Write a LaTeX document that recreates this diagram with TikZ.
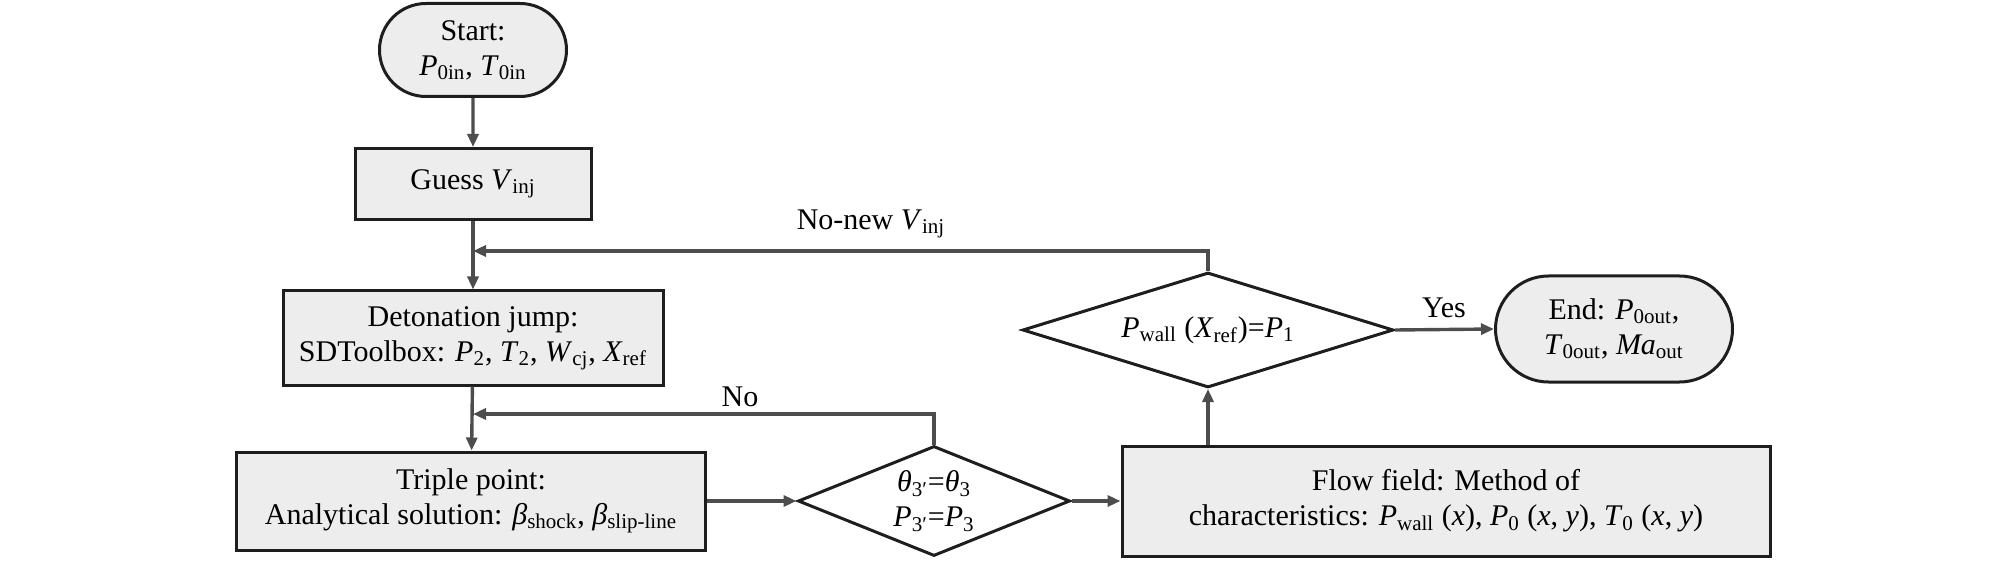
\documentclass[tikz,border=0pt]{standalone}
\usepackage{fontspec}
\setmainfont{Liberation Serif}
\usetikzlibrary{shapes.geometric,shapes.misc,arrows.meta}
\definecolor{boxfill}{HTML}{EDEDED}
\definecolor{linegray}{HTML}{4D4D4D}
\definecolor{edgeblack}{HTML}{1E1E1E}
\newcommand\vsub[2]{\textit{#1}\textsubscript{#2}}
\begin{document}
\begin{tikzpicture}[x=0.5pt,y=-0.5pt,
  font=\fontsize{15}{17.5}\selectfont,
  box/.style={draw=edgeblack, line width=1.5pt, fill=boxfill, inner sep=0pt, align=center},
  term/.style={box, rounded rectangle},
  dia/.style={draw=edgeblack, line width=1.5pt, diamond, inner sep=0pt},
  conn/.style={draw=linegray, line width=1.7pt, -{Triangle[length=6.5pt,width=5.5pt]}},
  lbl/.style={inner sep=0pt, align=center}
]
\useasboundingbox (0,0) rectangle (2008,561);

\node[term, minimum width=93.5pt, minimum height=46.5pt] (start) at (473,50)
  {Start:\\ \vsub{P}{0in}, \vsub{T}{0in}};
\node[box, minimum width=118pt, minimum height=35.5pt] (guess) at (473,184)
  {Guess \vsub{V}{inj}};
\node[box, minimum width=190pt, minimum height=47pt] (deton) at (473,338)
  {Detonation jump:\\ SDToolbox: \vsub{P}{2}, \vsub{T}{2}, \vsub{W}{cj}, \vsub{X}{ref}};
\node[box, minimum width=234.5pt, minimum height=49pt] (triple) at (471,501)
  {Triple point:\\ Analytical solution: \vsub{β}{shock}, \vsub{β}{slip-line}};
\node[dia, minimum width=136pt, minimum height=55pt] (d1) at (934,501) {};
\node[lbl] (d1t) at (d1.center) {\vsub{θ}{3′}=\vsub{θ}{3}\\ \vsub{P}{3′}=\vsub{P}{3}};
\node[box, minimum width=324pt, minimum height=55pt] (flow) at (1446,501)
  {Flow field: Method of\\ characteristics: \vsub{P}{wall} (\textit{x}), \vsub{P}{0} (\textit{x}, \textit{y}), \vsub{T}{0} (\textit{x}, \textit{y})};
\node[dia, minimum width=185.5pt, minimum height=57.5pt] (d2) at (1208,330) {};
\node[lbl] (d2t) at (d2.center) {\vsub{P}{wall} (\vsub{X}{ref})=\vsub{P}{1}};
\node[term, minimum width=118.5pt, minimum height=53pt] (end) at (1614,329)
  {End: \vsub{P}{0out},\\ \vsub{T}{0out}, \vsub{\textit{Ma}}{out}};

\coordinate (j1) at (473,251);
\coordinate (j2) at (473,414);

\draw[conn] (start) -- (guess);
\draw[conn] (guess) -- (deton);
\draw[conn] (deton) -- (triple);
\draw[conn] (triple) -- (d1);
\draw[conn] (d1) -- (flow);
\draw[conn] (d1.north) |- (j2);
\draw[conn] (flow.north -| d2.south) -- (d2.south);
\draw[conn] (d2.north) |- (j1);
\draw[conn] (d2.east) -- (end.west);

\node[lbl] (lno) at (740,397) {No};
\node[lbl] (lnonew) at (871,224) {No-new \vsub{V}{inj}};
\node[lbl] (lyes) at (1444,308) {Yes};
\end{tikzpicture}
\end{document}
